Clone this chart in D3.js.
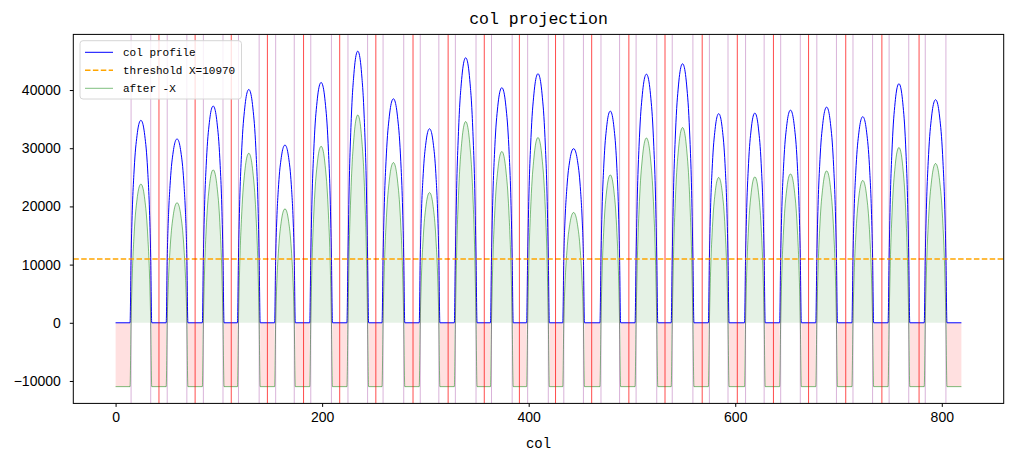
<!DOCTYPE html>
<html lang="en">
<head>
    <meta charset="UTF-8">
    <title>col projection</title>
    <script src="https://d3js.org/d3.v7.min.js"></script>
</head>
<style>
    html,body {
        margin: 0;
        padding: 0;
        background: #fff;
    }
</style>
<body>
    <div id="chart"></div>
</body>
<script>
    // threshold and column range
    const threshold = 10970;
    const colMin = 0;
    const colMax = 819;

    // each hump: first / last non-zero column and peak value
    const humpStart = [15, 50, 85, 119, 155, 189, 225, 259, 295, 329, 364, 399,
        434, 470, 504, 539, 575, 610, 644, 679, 714, 749, 784];
    const humpEnd = [34, 69, 104, 139, 173, 209, 244, 279, 313, 349, 384, 419,
        453, 488, 524, 559, 593, 628, 663, 698, 733, 768, 804];
    const humpPeak = [34800, 31600, 37250, 40100, 30550, 41300, 46680, 38500, 33350,
        45550, 40400, 42800, 29930, 36380, 42730, 44520, 35940, 36040, 36550,
        37070, 35420, 41080, 38340];
    // hump profile: share of (peak - X) across the hump
    const humpShape = [0.01, 0.39, 0.61, 0.77, 0.87, 0.945, 0.987, 1,
        0.987, 0.945, 0.87, 0.77, 0.61, 0.39, 0.01];
    // cut positions (red lines)
    const cuts = [42, 77, 112, 147, 182, 217, 252, 288, 322, 357, 391, 426,
        461, 497, 532, 568, 602, 637, 671, 707, 742, 778];
    const xTicks = [0, 200, 400, 600, 800];
    const yTicks = [-10000, 0, 10000, 20000, 30000, 40000];

    const width = 1015, height = 462;
    const margin = {left: 73.3, right: 11.3, top: 34.4, bottom: 58.6};

    const svg = d3.select('#chart').append('svg')
        .attr('width', width)
        .attr('height', height)
        .style('font-family', '"Liberation Sans", Arial, sans-serif');

    // build profile points from the hump tables
    const humps = humpStart.map((s, i) => {
        const e = humpEnd[i];
        const pts = humpShape.map((f, k) => [
            s + k * (e - s) / (humpShape.length - 1),
            threshold + f * (humpPeak[i] - threshold)
        ]);
        return pts;
    });
    const profile = [[colMin, 0]];
    humps.forEach((pts, i) => {
        profile.push([humpStart[i] - 1, 0]);
        pts.forEach(p => profile.push(p));
        profile.push([humpEnd[i] + 1, 0]);
    });
    profile.push([colMax, 0]);

    // gaps (values below threshold)
    const gaps = [[colMin, humpStart[0] - 1]];
    for (let i = 0; i < humpStart.length - 1; i += 1) {
        gaps.push([humpEnd[i] + 1, humpStart[i + 1] - 1]);
    }
    gaps.push([humpEnd[humpEnd.length - 1] + 1, colMax]);

    const xSpan = colMax - colMin;
    const yLo = -threshold, yHi = d3.max(humpPeak);
    const ySpan = yHi - yLo;
    const x = d3.scaleLinear()
        .domain([colMin - xSpan * 0.05, colMax + xSpan * 0.05])
        .range([margin.left, width - margin.right]);
    const y = d3.scaleLinear()
        .domain([yLo - ySpan * 0.05, yHi + ySpan * 0.05])
        .range([height - margin.bottom, margin.top]);

    const plot = svg.append('g');
    plot.append('clipPath').attr('id', 'clip')
        .append('rect')
        .attr('x', margin.left).attr('y', margin.top)
        .attr('width', width - margin.left - margin.right)
        .attr('height', height - margin.top - margin.bottom);
    const g = plot.append('g').attr('clip-path', 'url(#clip)');

    // red fill where after -X < 0
    g.selectAll('.neg')
        .data(gaps)
        .enter()
        .append('rect')
        .attr('class', 'neg')
        .attr('x', d => x(d[0]))
        .attr('width', d => x(d[1]) - x(d[0]))
        .attr('y', y(0))
        .attr('height', y(-threshold) - y(0))
        .attr('fill', 'rgba(255,0,0,0.12)');

    // green fill where after -X > 0
    const posArea = d3.area()
        .x(d => x(d[0]))
        .y0(y(0))
        .y1(d => y(d[1] - threshold))
        .curve(d3.curveMonotoneX);
    g.selectAll('.pos')
        .data(humps)
        .enter()
        .append('path')
        .attr('class', 'pos')
        .attr('d', posArea)
        .attr('fill', 'rgba(0,128,0,0.1)');

    // col profile
    const line = d3.line()
        .x(d => x(d[0]))
        .y(d => y(d[1]))
        .curve(d3.curveMonotoneX);
    g.append('path')
        .datum(profile)
        .attr('d', line)
        .attr('fill', 'none')
        .attr('stroke', '#0000ff')
        .attr('stroke-width', 1);

    // after -X
    g.append('path')
        .datum(profile.map(d => [d[0], d[1] - threshold]))
        .attr('d', line)
        .attr('fill', 'none')
        .attr('stroke', 'rgba(0,128,0,0.5)')
        .attr('stroke-width', 1);

    // threshold
    g.append('line')
        .attr('x1', margin.left).attr('x2', width - margin.right)
        .attr('y1', y(threshold)).attr('y2', y(threshold))
        .attr('stroke', '#ffa500')
        .attr('stroke-width', 1.5)
        .attr('stroke-dasharray', '5.5,2.4');

    // hump borders (purple) and cuts (red)
    const bounds = humpStart.concat(humpEnd);
    g.selectAll('.bound')
        .data(bounds)
        .enter()
        .append('line')
        .attr('class', 'bound')
        .attr('x1', d => x(d)).attr('x2', d => x(d))
        .attr('y1', margin.top).attr('y2', height - margin.bottom)
        .attr('stroke', 'rgba(128,0,128,0.3)')
        .attr('stroke-width', 1);
    g.selectAll('.cut')
        .data(cuts)
        .enter()
        .append('line')
        .attr('class', 'cut')
        .attr('x1', d => x(d)).attr('x2', d => x(d))
        .attr('y1', margin.top).attr('y2', height - margin.bottom)
        .attr('stroke', 'rgba(255,0,0,0.7)')
        .attr('stroke-width', 1);

    // axes
    const xAxis = svg.append('g')
        .attr('transform', `translate(0,${height - margin.bottom})`)
        .call(d3.axisBottom(x).tickValues(xTicks).tickSize(3.5).tickPadding(5).tickFormat(d3.format('d')));
    const yAxis = svg.append('g')
        .attr('transform', `translate(${margin.left},0)`)
        .call(d3.axisLeft(y).tickValues(yTicks).tickSize(3.5).tickPadding(9).tickFormat(d3.format('d')));
    [xAxis, yAxis].forEach(a => {
        a.select('.domain').remove();
        a.selectAll('text')
            .attr('font-size', 14)
            .attr('fill', '#000')
            .attr('font-family', '"Liberation Sans", Arial, sans-serif');
        a.selectAll('line').attr('stroke', '#000').attr('stroke-width', 1);
    });

    // frame
    svg.append('rect')
        .attr('x', margin.left).attr('y', margin.top)
        .attr('width', width - margin.left - margin.right)
        .attr('height', height - margin.top - margin.bottom)
        .attr('fill', 'none')
        .attr('stroke', '#000')
        .attr('stroke-width', 1);

    // titles
    svg.append('text')
        .attr('x', (margin.left + width - margin.right) / 2)
        .attr('y', 24)
        .attr('text-anchor', 'middle')
        .attr('font-family', '"Liberation Mono", monospace')
        .attr('font-size', 16.5)
        .text('col projection');
    svg.append('text')
        .attr('x', (margin.left + width - margin.right) / 2)
        .attr('y', 448)
        .attr('text-anchor', 'middle')
        .attr('font-family', '"Liberation Mono", monospace')
        .attr('font-size', 14)
        .text('col');

    // legend
    const legendItems = [
        {label: 'col profile', color: '#0000ff', dash: null},
        {label: 'threshold X=10970', color: '#ffa500', dash: '5.5,2.4', w: 1.5},
        {label: 'after -X', color: 'rgba(0,128,0,0.5)', dash: null}
    ];
    const legend = svg.append('g');
    legend.append('rect')
        .attr('x', 80).attr('y', 40.7)
        .attr('width', 161.5).attr('height', 58.3)
        .attr('rx', 3)
        .attr('fill', 'rgba(255,255,255,0.8)')
        .attr('stroke', '#d6d6d6')
        .attr('stroke-width', 1);
    legendItems.forEach((d, i) => {
        const cy = 52.3 + i * 18;
        legend.append('line')
            .attr('x1', 85).attr('x2', 113)
            .attr('y1', cy).attr('y2', cy)
            .attr('stroke', d.color)
            .attr('stroke-width', d.w || 1)
            .attr('stroke-dasharray', d.dash);
        legend.append('text')
            .attr('x', 123)
            .attr('y', cy + 4)
            .attr('font-family', '"Liberation Mono", monospace')
            .attr('font-size', 11)
            .text(d.label);
    });
</script>
</html>
